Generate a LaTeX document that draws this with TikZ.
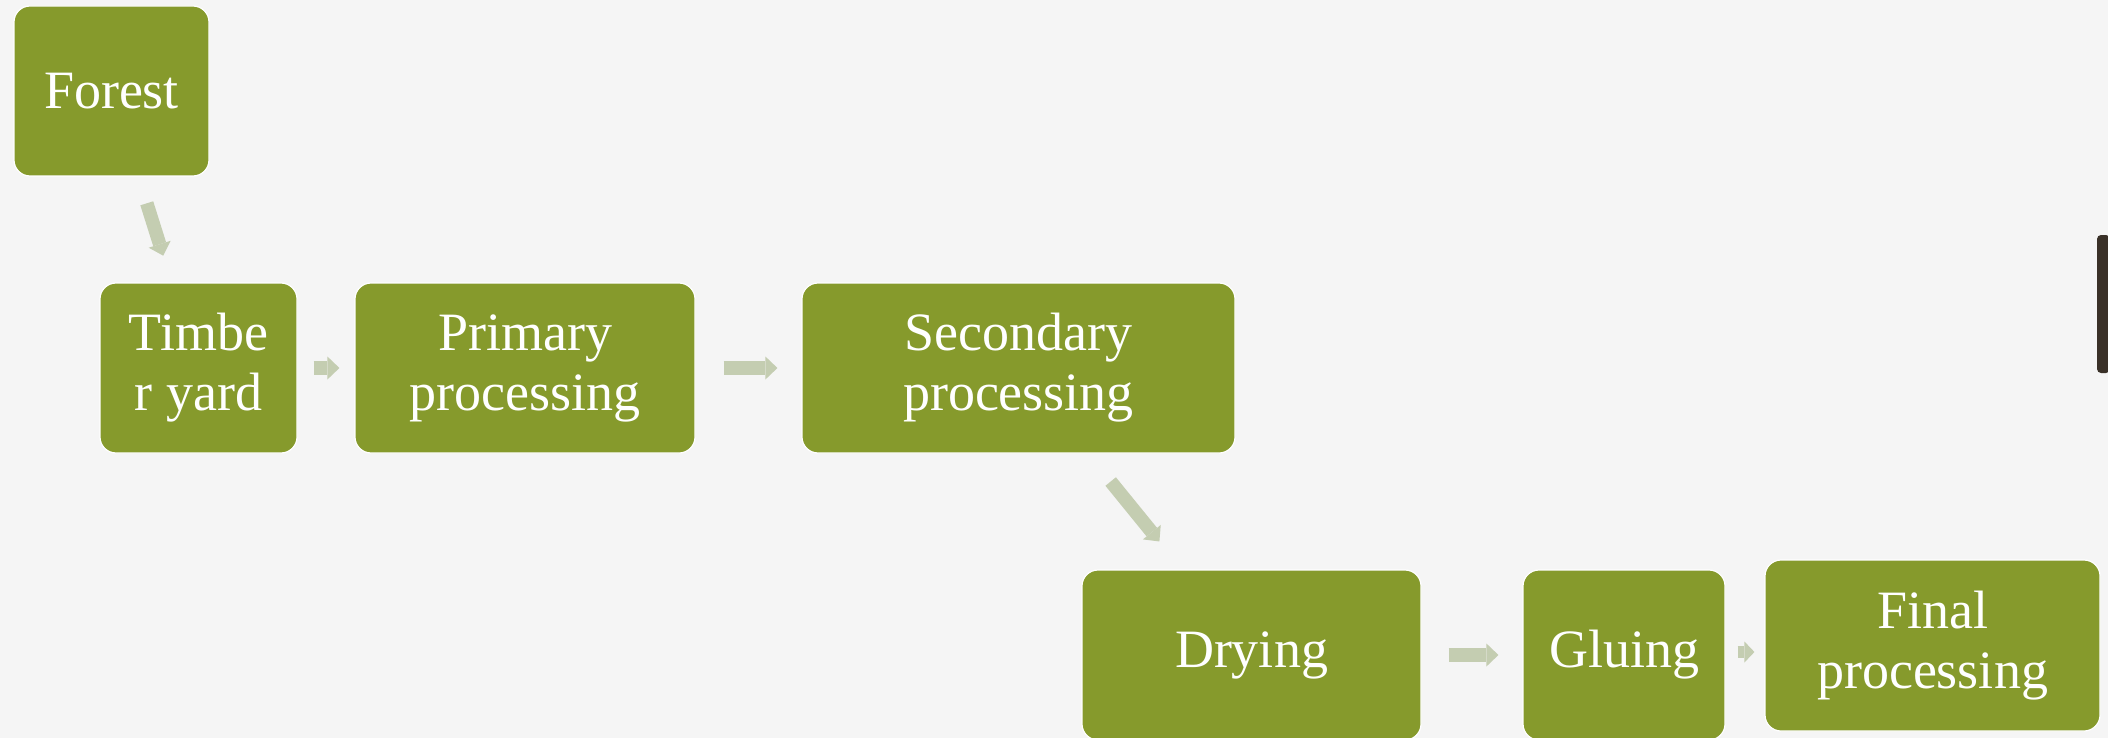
\documentclass[tikz,border=0pt]{standalone}
\usepackage{fontspec}
\setmainfont{Liberation Serif}
\usetikzlibrary{arrows.meta}
\definecolor{boxgreen}{RGB}{134,154,44}
\definecolor{arrowgray}{RGB}{196,205,177}
\definecolor{bgpaper}{RGB}{245,245,245}
\definecolor{barbrown}{RGB}{58,49,40}
\tikzset{
  stagebox/.style={fill=boxgreen, draw=white, line width=1.2pt, rounded corners=16pt,
    text=white, align=center, inner sep=0pt,
    font=\fontsize{54}{60}\selectfont},
  blockarrow/.style={draw=arrowgray, line width=13.5pt,
    -{Triangle[width=23pt,length=12pt,line width=0pt,fill=arrowgray]}}
}
\begin{document}
\begin{tikzpicture}[x=1pt,y=-1pt]
\useasboundingbox (0,0) rectangle (2108,738);
\fill[bgpaper] (0,0) rectangle (2108,738);
% nodes
\node[stagebox, minimum width=195pt, minimum height=170pt] (forest) at (111.5,91) {Forest};
\node[stagebox, minimum width=197pt, minimum height=170pt] (timber) at (198.5,368) {Timbe\\r yard};
\node[stagebox, minimum width=340pt, minimum height=170pt] (primary) at (525,368) {Primary\\processing};
\node[stagebox, minimum width=433pt, minimum height=170pt] (secondary) at (1018.5,368) {Secondary\\processing};
\node[stagebox, minimum width=339pt, minimum height=170pt] (drying) at (1251.5,655) {Drying};
\node[stagebox, minimum width=202pt, minimum height=170pt] (gluing) at (1624,655) {Gluing};
\node[stagebox, minimum width=335pt, minimum height=171pt] (final) at (1932.5,645.5) {Final\\processing};
% connectors
\draw[blockarrow, shorten <=28pt, shorten >=28pt] (forest) -- (timber);
\draw[blockarrow, shorten <=16pt, shorten >=15pt] (timber) -- (primary);
\draw[blockarrow, shorten <=28pt, shorten >=24pt] (primary) -- (secondary);
\draw[blockarrow, shorten <=36pt, shorten >=36pt] (secondary) -- (drying);
\draw[blockarrow, shorten <=27pt, shorten >=24pt] (drying) -- (gluing);
\draw[blockarrow, line width=12pt, -{Triangle[width=21pt,length=10pt,line width=0pt,fill=arrowgray]}, shorten <=12pt, shorten >=10pt]
  ([yshift=3pt]gluing.east) -- ([yshift=3pt]gluing.east -| final.west);
% scrollbar at the right edge
\fill[barbrown, rounded corners=4pt] (2097,235) rectangle (2110,373);
\end{tikzpicture}
\end{document}
